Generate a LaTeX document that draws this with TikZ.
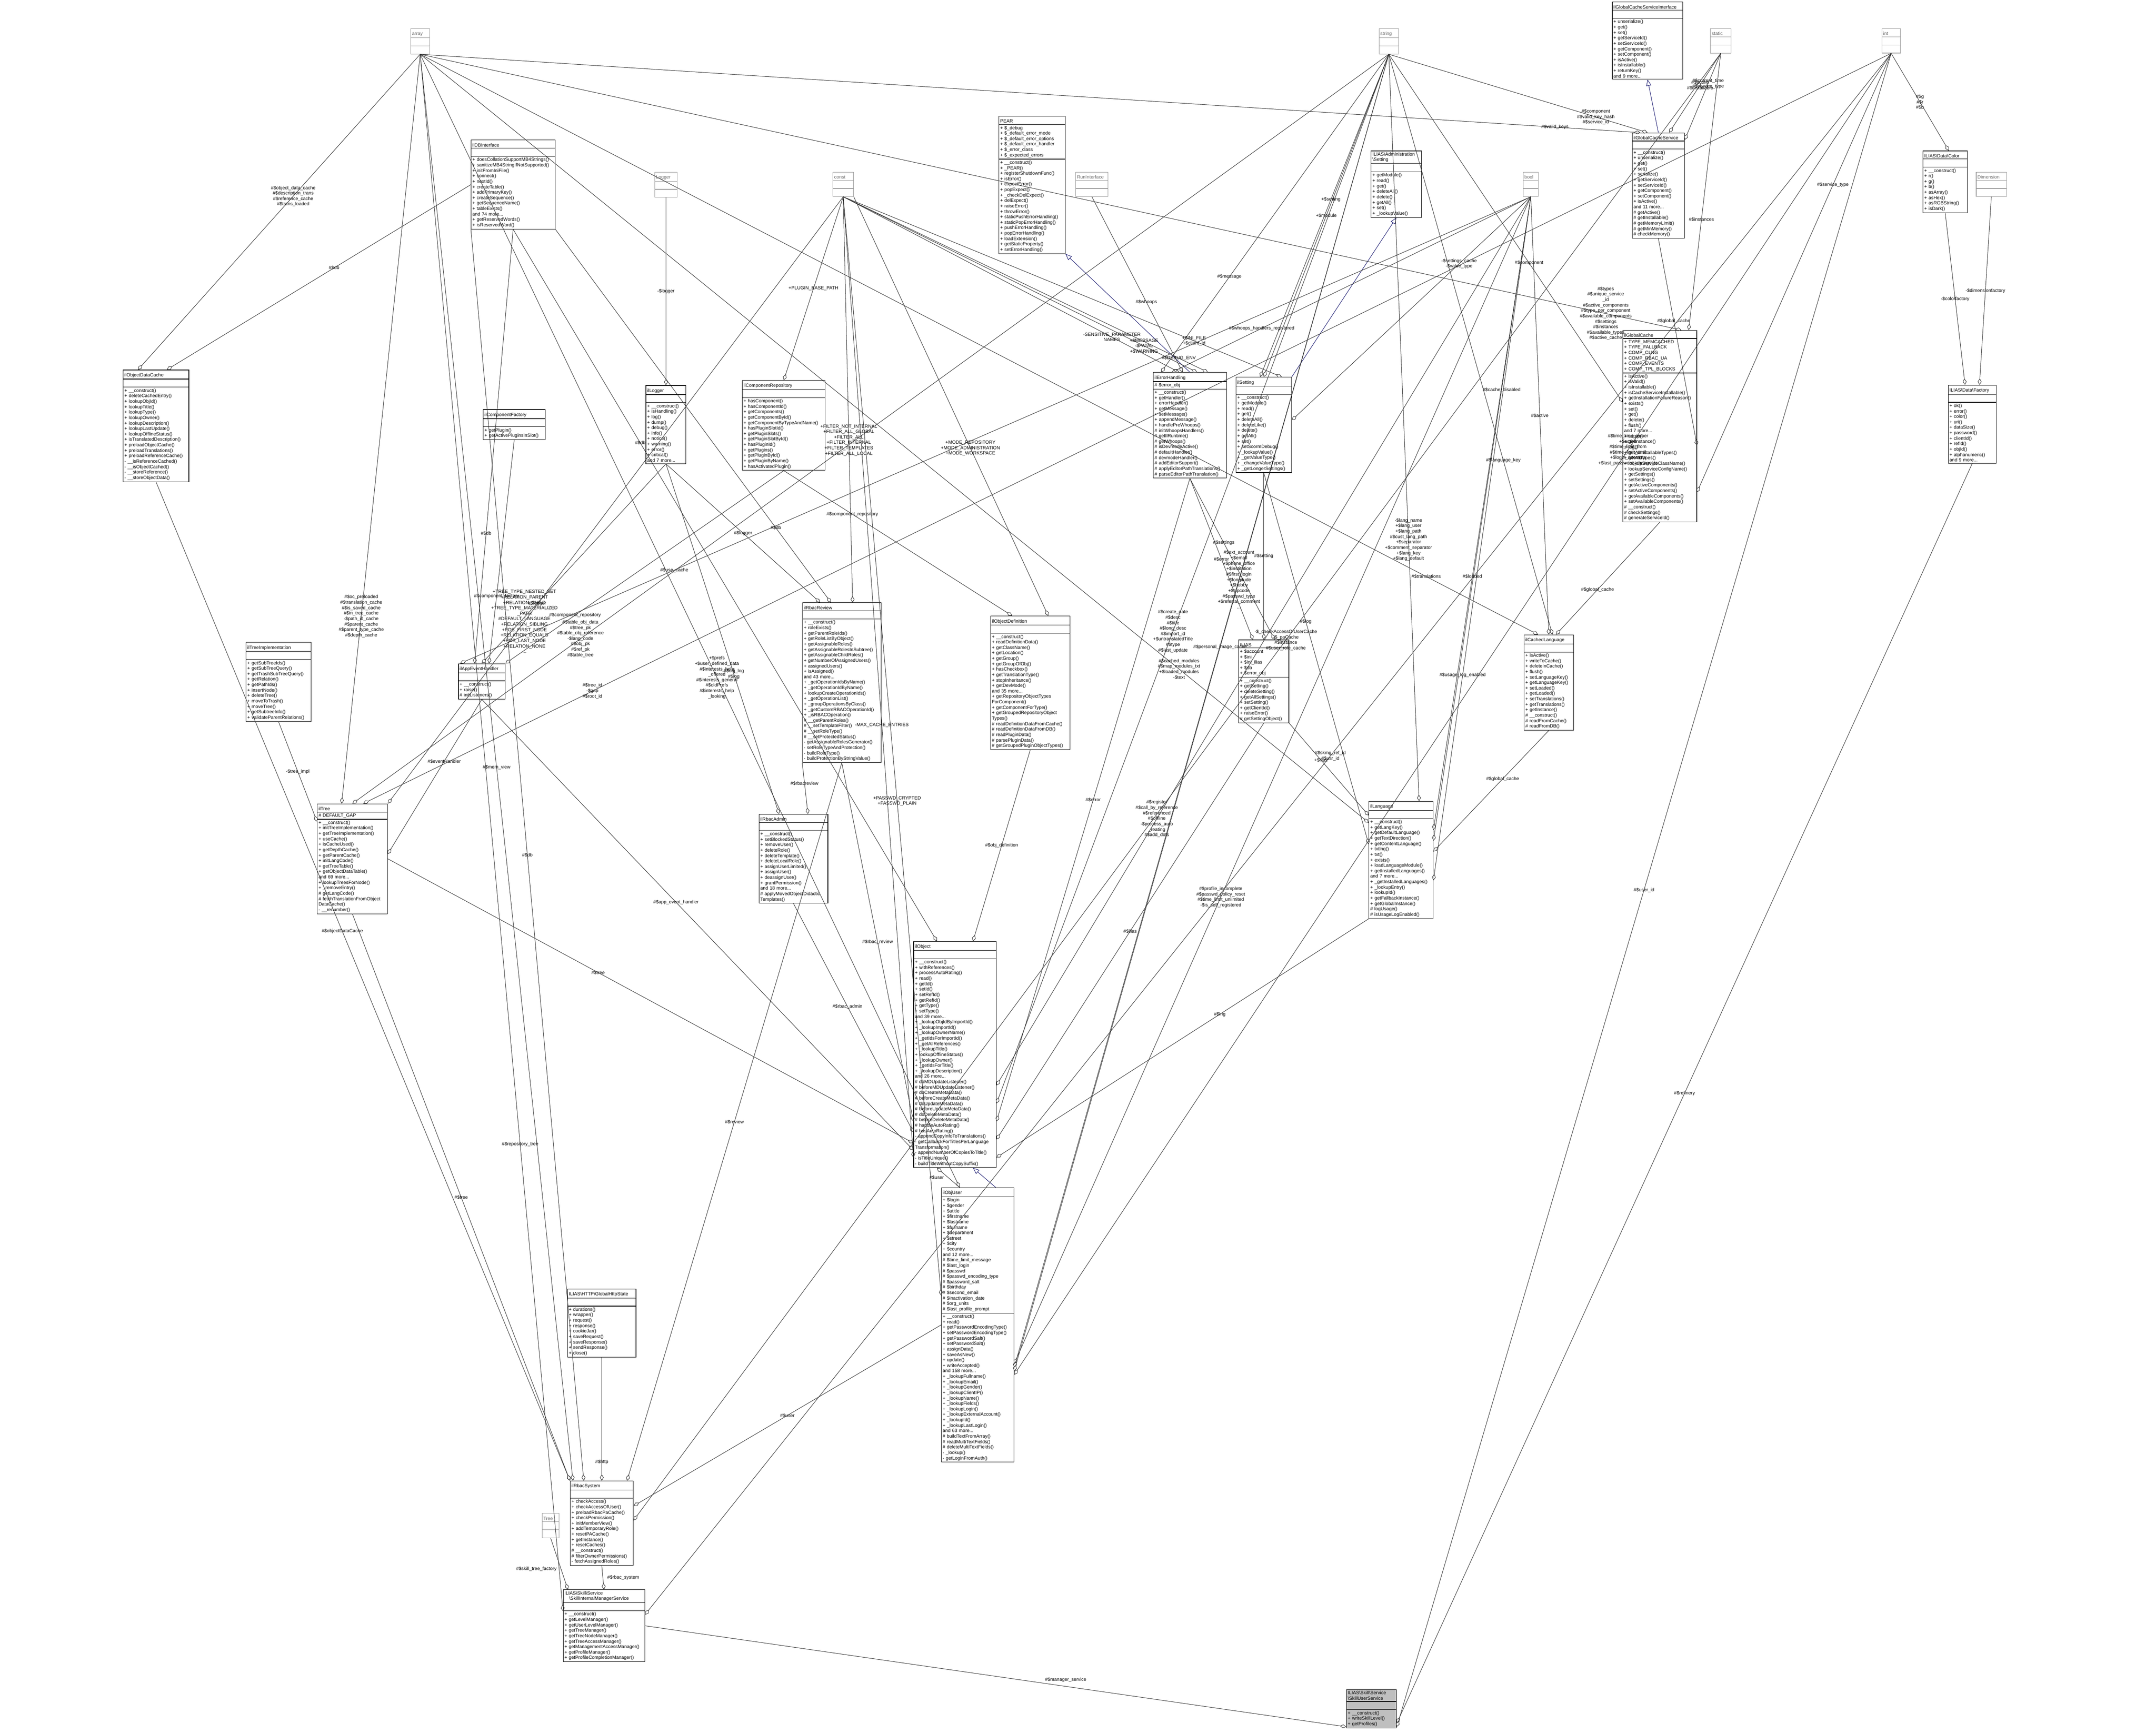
\documentclass[tikz,border=0pt]{standalone}
\usepackage{fontspec}
\usepackage{xcolor}
\usepackage{tikz}
\usetikzlibrary{arrows.meta,shapes.multipart}
\newfontfamily\dxfont{Liberation Sans}
\newcommand{\dxsize}{\dxfont\fontsize{3.7}{4.3}\selectfont}
\newcommand{\es}{\rule{0pt}{4pt}}
\definecolor{midblue}{HTML}{191970}
\tikzset{
  classbox/.style={rectangle split, rectangle split parts=3, draw=black, anchor=north,
    inner xsep=1pt, inner ysep=1pt, font=\dxsize, align=left},
  typebox/.style={classbox, draw=black!40, text=black!60},
  rel/.style={draw=black!80, line width=0.35pt, -{Diamond[open,length=5pt,width=3pt]}},
  inh/.style={draw=midblue, line width=0.35pt, -{Triangle[open,length=5pt,width=4pt]}},
  lbl/.style={font=\dxsize, align=center, text=black}
}
\begin{document}
\begin{tikzpicture}[x=1cm, y=-1cm]
    \useasboundingbox (0,0) rectangle (59.83,48.09);
    % basic types
    \node[typebox, text width=0.45cm] (tArray) at (11.66,0.79) {\centering array\es\nodepart{second}\es\nodepart{third}\es};
    \node[typebox, text width=0.55cm] (tLogger) at (18.48,4.77) {\centering Logger\es\nodepart{second}\es\nodepart{third}\es};
    \node[typebox, text width=0.50cm] (tConst) at (23.40,4.77) {\centering const\es\nodepart{second}\es\nodepart{third}\es};
    \node[typebox, text width=0.83cm] (tRun) at (30.30,4.77) {\centering RunInterface\es\nodepart{second}\es\nodepart{third}\es};
    \node[typebox, text width=0.47cm] (tString) at (38.54,0.79) {\centering string\es\nodepart{second}\es\nodepart{third}\es};
    \node[typebox, text width=0.50cm] (tStatic) at (47.75,0.79) {\centering static\es\nodepart{second}\es\nodepart{third}\es};
    \node[typebox, text width=0.44cm] (tInt) at (52.48,0.79) {\centering int\es\nodepart{second}\es\nodepart{third}\es};
    \node[typebox, text width=0.35cm] (tBool) at (42.48,4.77) {\centering bool\es\nodepart{second}\es\nodepart{third}\es};
    \node[typebox, text width=0.77cm] (tDimension) at (55.26,4.77) {\centering Dimension\es\nodepart{second}\es\nodepart{third}\es};
    \node[typebox, text width=0.40cm] (tTree) at (15.28,41.99) {\centering Tree\es\nodepart{second}\es\nodepart{third}\es};

    % classes
    \node[classbox, text width=1.77cm] (PEAR) at (28.64,3.22) {\centering PEAR\es\nodepart{second}+ \$\_debug\\+ \$\_default\_error\_mode\\+ \$\_default\_error\_options\\+ \$\_default\_error\_handler\\+ \$\_error\_class\\+ \$\_expected\_errors\nodepart{third}+ \_\_construct()\\+ \_PEAR()\\+ registerShutdownFunc()\\+ isError()\\+ expectError()\\+ popExpect()\\+ \_checkDelExpect()\\+ delExpect()\\+ raiseError()\\+ throwError()\\+ staticPushErrorHandling()\\+ staticPopErrorHandling()\\+ pushErrorHandling()\\+ popErrorHandling()\\+ loadExtension()\\+ getStaticProperty()\\+ setErrorHandling()};
    \node[classbox, text width=2.26cm] (ilDBInterface) at (14.24,3.88) {\centering ilDBInterface\es\nodepart{second}\es\nodepart{third}+ doesCollationSupportMB4Strings()\\+ sanitizeMB4StringIfNotSupported()\\+ initFromIniFile()\\+ connect()\\+ nextId()\\+ createTable()\\+ addPrimaryKey()\\+ createSequence()\\+ getSequenceName()\\+ tableExists()\\and 74 more...\\+ getReservedWords()\\+ isReservedWord()};
    \node[classbox, text width=1.75cm] (ilObjectDataCache) at (4.33,10.26) {\centering ilObjectDataCache\es\nodepart{second}\es\nodepart{third}+ \_\_construct()\\+ deleteCachedEntry()\\+ lookupObjId()\\+ lookupTitle()\\+ lookupType()\\+ lookupOwner()\\+ lookupDescription()\\+ lookupLastUpdate()\\+ lookupOfflineStatus()\\+ isTranslatedDescription()\\+ preloadObjectCache()\\+ preloadTranslations()\\+ preloadReferenceCache()\\- \_\_isReferenceCached()\\- \_\_isObjectCached()\\- \_\_storeReference()\\- \_\_storeObjectData()};
    \node[classbox, text width=1.65cm] (ilComponentFactory) at (14.27,11.36) {\centering ilComponentFactory\es\nodepart{second}\es\nodepart{third}+ getPlugin()\\+ getActivePluginsInSlot()};
    \node[classbox, text width=1.04cm] (ilLogger) at (18.48,10.69) {\centering ilLogger\es\nodepart{second}\es\nodepart{third}+ \_\_construct()\\+ isHandling()\\+ log()\\+ dump()\\+ debug()\\+ info()\\+ notice()\\+ warning()\\+ error()\\+ critical()\\and 7 more...};
    \node[classbox, text width=2.23cm] (ilComponentRepository) at (21.75,10.55) {\centering ilComponentRepository\es\nodepart{second}\es\nodepart{third}+ hasComponent()\\+ hasComponentId()\\+ getComponents()\\+ getComponentById()\\+ getComponentByTypeAndName()\\+ hasPluginSlotId()\\+ getPluginSlots()\\+ getPluginSlotById()\\+ hasPluginId()\\+ getPlugins()\\+ getPluginById()\\+ getPluginByName()\\+ hasActivatedPlugin()};
    \node[classbox, text width=1.89cm] (ilGlobalCacheServiceInterface) at (45.72,0.05) {\centering ilGlobalCacheServiceInterface\es\nodepart{second}\es\nodepart{third}+ unserialize()\\+ get()\\+ set()\\+ getServiceId()\\+ setServiceId()\\+ getComponent()\\+ setComponent()\\+ isActive()\\+ isInstallable()\\+ returnKey()\\and 9 more...};
    \node[classbox, text width=1.38cm] (ilGlobalCacheService) at (46.02,3.68) {\centering ilGlobalCacheService\es\nodepart{second}\es\nodepart{third}+ \_\_construct()\\+ unserialize()\\+ get()\\+ set()\\+ serialize()\\+ getServiceId()\\+ setServiceId()\\+ getComponent()\\+ setComponent()\\+ isActive()\\and 11 more...\\\# getActive()\\\# getInstallable()\\\# getMemoryLimit()\\\# getMinMemory()\\\# checkMemory()};
    \node[classbox, text width=1.33cm] (AdmSetting) at (38.75,4.18) {ILIAS\textbackslash Administration\\\textbackslash Setting\nodepart{second}\es\nodepart{third}+ getModule()\\+ read()\\+ get()\\+ deleteAll()\\+ delete()\\+ getAll()\\+ set()\\+ \_lookupValue()};
    \node[classbox, text width=1.98cm] (ilGlobalCache) at (46.06,9.16) {\centering ilGlobalCache\es\nodepart{second}+ TYPE\_MEMCACHED\\+ TYPE\_FALLBACK\\+ COMP\_CLNG\\+ COMP\_RBAC\_UA\\+ COMP\_EVENTS\\+ COMP\_TPL\_BLOCKS\nodepart{third}+ isActive()\\+ isValid()\\+ isInstallable()\\+ isCacheServiceInstallable()\\+ getInstallationFailureReason()\\+ exists()\\+ set()\\+ get()\\+ delete()\\+ flush()\\and 7 more...\\+ setup()\\+ getInstance()\\+ log()\\+ getAllInstallableTypes()\\+ getAllTypes()\\+ lookupServiceClassName()\\+ lookupServiceConfigName()\\+ getSettings()\\+ setSettings()\\+ getActiveComponents()\\+ setActiveComponents()\\+ getAvailableComponents()\\+ setAvailableComponents()\\\# \_\_construct()\\\# checkSettings()\\\# generateServiceId()};
    \node[classbox, text width=1.16cm] (Color) at (53.98,4.18) {\centering ILIAS\textbackslash Data\textbackslash Color\es\nodepart{second}\es\nodepart{third}+ \_\_construct()\\+ r()\\+ g()\\+ b()\\+ asArray()\\+ asHex()\\+ asRGBString()\\+ isDark()};
    \node[classbox, text width=1.26cm] (DataFactory) at (54.73,10.68) {\centering ILIAS\textbackslash Data\textbackslash Factory\es\nodepart{second}\es\nodepart{third}+ ok()\\+ error()\\+ color()\\+ uri()\\+ dataSize()\\+ password()\\+ clientId()\\+ refId()\\+ objId()\\+ alphanumeric()\\and 9 more...};
    \node[classbox, text width=1.96cm] (ilErrorHandling) at (33.02,10.33) {\centering ilErrorHandling\es\nodepart{second}\# \$error\_obj\nodepart{third}+ \_\_construct()\\+ getHandler()\\+ errorHandler()\\+ getMessage()\\+ setMessage()\\+ appendMessage()\\+ handlePreWhoops()\\\# initWhoopsHandlers()\\\# getIlRuntime()\\\# getWhoops()\\\# isDevmodeActive()\\\# defaultHandler()\\\# devmodeHandler()\\\# addEditorSupport()\\\# applyEditorPathTranslations()\\\# parseEditorPathTranslation()};
    \node[classbox, text width=1.47cm] (ilSetting) at (35.07,10.46) {\centering ilSetting\es\nodepart{second}\es\nodepart{third}+ \_\_construct()\\+ getModule()\\+ read()\\+ get()\\+ deleteAll()\\+ deleteLike()\\+ delete()\\+ getAll()\\+ set()\\+ setScormDebug()\\+ \_lookupValue()\\+ \_getValueType()\\+ \_changeValueType()\\+ \_getLongerSettings()};
    \node[classbox, text width=1.73cm] (ilTreeImplementation) at (7.73,17.82) {\centering ilTreeImplementation\es\nodepart{second}\es\nodepart{third}+ getSubTreeIds()\\+ getSubTreeQuery()\\+ getTrashSubTreeQuery()\\+ getRelation()\\+ getPathIds()\\+ insertNode()\\+ deleteTree()\\+ moveToTrash()\\+ moveTree()\\+ getSubtreeInfo()\\+ validateParentRelations()};
    \node[classbox, text width=1.23cm] (ilAppEventHandler) at (13.37,18.41) {\centering ilAppEventHandler\es\nodepart{second}\es\nodepart{third}+ \_\_construct()\\+ raise()\\\# initListeners()};
    \node[classbox, text width=1.88cm] (ilTree) at (9.78,22.30) {\centering ilTree\es\nodepart{second}\# DEFAULT\_GAP\nodepart{third}+ \_\_construct()\\+ initTreeImplementation()\\+ getTreeImplementation()\\+ useCache()\\+ isCacheUsed()\\+ getDepthCache()\\+ getParentCache()\\+ initLangCode()\\+ getTreeTable()\\+ getObjectDataTable()\\and 69 more...\\+ lookupTreesForNode()\\+ \_removeEntry()\\\# getLangCode()\\\# fetchTranslationFromObject\\DataCache()\\- \_\_renumber()};
    \node[classbox, text width=2.11cm] (ilRbacReview) at (23.36,16.72) {\centering ilRbacReview\es\nodepart{second}\es\nodepart{third}+ \_\_construct()\\+ roleExists()\\+ getParentRoleIds()\\+ getRoleListByObject()\\+ getAssignableRoles()\\+ getAssignableRolesInSubtree()\\+ getAssignableChildRoles()\\+ getNumberOfAssignedUsers()\\+ assignedUsers()\\+ isAssigned()\\and 43 more...\\+ \_getOperationIdsByName()\\+ \_getOperationIdByName()\\+ lookupCreateOperationIds()\\+ \_getOperationList()\\+ \_groupOperationsByClass()\\+ \_getCustomRBACOperationId()\\+ \_isRBACOperation()\\\# \_\_getParentRoles()\\\# \_\_setTemplateFilter()\\\# \_\_setRoleType()\\\# \_\_setProtectedStatus()\\- getAssignableRolesGenerator()\\- setRoleTypeAndProtection()\\- buildRoleType()\\- buildProtectionByStringValue()};
    \node[classbox, text width=2.13cm] (ilObjectDefinition) at (28.59,17.09) {\centering ilObjectDefinition\es\nodepart{second}\es\nodepart{third}+ \_\_construct()\\+ readDefinitionData()\\+ getClassName()\\+ getLocation()\\+ getGroup()\\+ getGroupOfObj()\\+ hasCheckbox()\\+ getTranslationType()\\+ stopInheritance()\\+ getDevMode()\\and 35 more...\\+ getRepositoryObjectTypes\\ForComponent()\\+ getComponentForType()\\+ getGroupedRepositoryObject\\Types()\\\# readDefinitionDataFromCache()\\\# readDefinitionDataFromDB()\\\# readPluginData()\\\# parsePluginData()\\\# getGroupedPluginObjectTypes()};
    \node[classbox, text width=1.84cm] (ilRbacAdmin) at (22.02,22.59) {\centering ilRbacAdmin\es\nodepart{second}\es\nodepart{third}+ \_\_construct()\\+ setBlockedStatus()\\+ removeUser()\\+ deleteRole()\\+ deleteTemplate()\\+ deleteLocalRole()\\+ assignUserLimited()\\+ assignUser()\\+ deassignUser()\\+ grantPermission()\\and 18 more...\\\# applyMovedObjectDidactic\\Templates()};
    \node[classbox, text width=2.22cm] (ilObject) at (26.50,26.12) {\centering ilObject\es\nodepart{second}\es\nodepart{third}+ \_\_construct()\\+ withReferences()\\+ processAutoRating()\\+ read()\\+ getId()\\+ setId()\\+ setRefId()\\+ getRefId()\\+ getType()\\+ setType()\\and 39 more...\\+ \_lookupObjIdByImportId()\\+ \_lookupImportId()\\+ \_lookupOwnerName()\\+ \_getIdsForImportId()\\+ \_getAllReferences()\\+ \_lookupTitle()\\+ lookupOfflineStatus()\\+ \_lookupOwner()\\+ \_getIdsForTitle()\\+ \_lookupDescription()\\and 26 more...\\\# doMDUpdateListener()\\\# beforeMDUpdateListener()\\\# doCreateMetaData()\\\# beforeCreateMetaData()\\\# doUpdateMetaData()\\\# beforeUpdateMetaData()\\\# doDeleteMetaData()\\\# beforeDeleteMetaData()\\\# handleAutoRating()\\\# hasAutoRating()\\- appendCopyInfoToTranslations()\\- getCallbackForTitlesPerLanguage\\Transformation()\\- appendNumberOfCopiesToTitle()\\- isTitleUnique()\\- buildTitleWithoutCopySuffix()};
    \node[classbox, text width=1.32cm] (ILIAS) at (35.07,17.75) {\centering ILIAS\es\nodepart{second}+ \$account\\+ \$ini\\+ \$ini\_ilias\\+ \$db\\+ \$error\_obj\nodepart{third}+ \_\_construct()\\+ getSetting()\\+ deleteSetting()\\+ getAllSettings()\\+ setSetting()\\+ getClientId()\\+ raiseError()\\\# getSettingObject()};
    \node[classbox, text width=1.30cm] (ilCachedLanguage) at (42.98,17.61) {\centering ilCachedLanguage\es\nodepart{second}\es\nodepart{third}+ isActive()\\+ writeToCache()\\+ deleteInCache()\\+ flush()\\+ setLanguageKey()\\+ getLanguageKey()\\+ setLoaded()\\+ getLoaded()\\+ setTranslations()\\+ getTranslations()\\+ getInstance()\\\# \_\_construct()\\\# readFromCache()\\\# readFromDB()};
    \node[classbox, text width=1.71cm] (ilLanguage) at (38.88,22.23) {\centering ilLanguage\es\nodepart{second}\es\nodepart{third}+ \_\_construct()\\+ getLangKey()\\+ getDefaultLanguage()\\+ getTextDirection()\\+ getContentLanguage()\\+ txtlng()\\+ txt()\\+ exists()\\+ loadLanguageModule()\\+ getInstalledLanguages()\\and 7 more...\\+ \_getInstalledLanguages()\\+ \_lookupEntry()\\+ lookupId()\\+ getFallbackInstance()\\+ getGlobalInstance()\\\# logUsage()\\\# isUsageLogEnabled()};
    \node[classbox, text width=1.94cm] (ilObjUser) at (27.13,32.95) {\centering ilObjUser\es\nodepart{second}+ \$login\\+ \$gender\\+ \$utitle\\+ \$firstname\\+ \$lastname\\+ \$fullname\\+ \$department\\+ \$street\\+ \$city\\+ \$country\\and 12 more...\\\# \$time\_limit\_message\\\# \$last\_login\\\# \$passwd\\\# \$passwd\_encoding\_type\\\# \$password\_salt\\\# \$birthday\\\# \$second\_email\\\# \$inactivation\_date\\\# \$org\_units\\\# \$last\_profile\_prompt\nodepart{third}+ \_\_construct()\\+ read()\\+ getPasswordEncodingType()\\+ setPasswordEncodingType()\\+ getPasswordSalt()\\+ setPasswordSalt()\\+ assignData()\\+ saveAsNew()\\+ update()\\+ writeAccepted()\\and 158 more...\\+ \_lookupFullname()\\+ \_lookupEmail()\\+ \_lookupGender()\\+ \_lookupClientIP()\\+ \_lookupName()\\+ \_lookupFields()\\+ \_lookupLogin()\\+ \_lookupExternalAccount()\\+ \_lookupId()\\+ \_lookupLastLogin()\\and 63 more...\\\# buildTextFromArray()\\\# readMultiTextFields()\\\# deleteMultiTextFields()\\- \_lookup()\\- getLoginFromAuth()};
    \node[classbox, text width=1.83cm] (GlobalHttpState) at (16.70,35.76) {\centering ILIAS\textbackslash HTTP\textbackslash GlobalHttpState\es\nodepart{second}\es\nodepart{third}+ durations()\\+ wrapper()\\+ request()\\+ response()\\+ cookieJar()\\+ saveRequest()\\+ saveResponse()\\+ sendResponse()\\+ close()};
    \node[classbox, text width=1.68cm] (ilRbacSystem) at (16.70,41.09) {\centering ilRbacSystem\es\nodepart{second}\es\nodepart{third}+ checkAccess()\\+ checkAccessOfUser()\\+ preloadRbacPaCache()\\+ checkPermission()\\+ initMemberView()\\+ addTemporaryRole()\\+ resetPACache()\\+ getInstance()\\+ resetCaches()\\\# \_\_construct()\\\# filterOwnerPermissions()\\- fetchAssignedRoles()};
    \node[classbox, text width=2.19cm] (SkillManager) at (16.76,44.11) {ILIAS\textbackslash Skill\textbackslash Service\\\quad\textbackslash SkillInternalManagerService\nodepart{second}\es\nodepart{third}+ \_\_construct()\\+ getLevelManager()\\+ getUserLevelManager()\\+ getTreeManager()\\+ getTreeNodeManager()\\+ getTreeAccessManager()\\+ getManagementAccessManager()\\+ getProfileManager()\\+ getProfileCompletionManager()};
    \node[classbox, text width=1.32cm, fill=black!25] (SkillUser) at (38.06,46.88) {ILIAS\textbackslash Skill\textbackslash Service\\\textbackslash SkillUserService\nodepart{second}\es\nodepart{third}+ \_\_construct()\\+ writeSkillLevel()\\+ getProfiles()};

    % inheritance
    \draw[inh] (ilGlobalCacheService.north) -- (ilGlobalCacheServiceInterface.south);
    \draw[inh] (ilErrorHandling.north) -- (PEAR.south east);
    \draw[inh] (ilSetting.north east) -- (AdmSetting.south);
    \draw[inh] ([xshift=0.5cm]ilObjUser.north) -- ([xshift=0.5cm]ilObject.south);

    % members: upper left
    \draw[rel] (tArray.south) -- node[lbl,pos=0.45]{\#\$object\_data\_cache\\\#\$description\_trans\\\#\$reference\_cache\\\#\$trans\_loaded} ([xshift=-0.5cm]ilObjectDataCache.north);
    \draw[rel] (ilDBInterface.west) -- node[lbl,pos=0.45]{\#\$db} ([xshift=0.3cm]ilObjectDataCache.north);
    \draw[rel] (tArray.south) -- node[lbl,pos=0.75]{\#\$oc\_preloaded\\\#\$translation\_cache\\\#\$is\_saved\_cache\\\#\$in\_tree\_cache\\-\$path\_id\_cache\\\#\$parent\_cache\\\#\$parent\_type\_cache\\\#\$depth\_cache} ([xshift=-0.3cm]ilTree.north);
    \draw[rel] (tString.south) -- node[lbl,pos=0.78]{\#\$table\_obj\_data\\\#\$tree\_pk\\\#\$table\_obj\_reference\\-\$lang\_code\\\#\$obj\_pk\\\#\$ref\_pk\\\#\$table\_tree} (ilTree.north);
    \draw[rel] (tInt.south) -- node[lbl,pos=0.85]{\#\$tree\_id\\-\$gap\\\#\$root\_id} ([xshift=0.3cm]ilTree.north);
    \draw[rel] (tConst.south) -- node[lbl,pos=0.7]{+TREE\_TYPE\_NESTED\_SET\\+RELATION\_PARENT\\+RELATION\_CHILD\\+TREE\_TYPE\_MATERIALIZED\\\_PATH\\\#DEFAULT\_LANGUAGE\\+RELATION\_SIBLING\\+POS\_FIRST\_NODE\\+RELATION\_EQUALS\\+POS\_LAST\_NODE\\+RELATION\_NONE\\...} (ilTree.north east);
    \draw[rel] (ilTreeImplementation.south) -- node[lbl,pos=0.5]{-\$tree\_impl} ([yshift=-0.5cm]ilTree.north west);
    \draw[rel] (ilAppEventHandler.south) -- node[lbl,pos=0.4]{\#\$eventHandler} ([yshift=-1.4cm]ilTree.north east);
    \draw[rel] (ilObjectDataCache.south) -- node[lbl,pos=0.45]{\#\$objectDataCache} (ilRbacSystem.north west);
    \draw[rel] (tLogger.south) -- node[lbl,pos=0.5]{-\$logger} (ilLogger.north);
    \draw[rel] (tConst.south) -- node[lbl,pos=0.5]{+PLUGIN\_BASE\_PATH} (ilComponentRepository.north);
    \draw[rel] (ilComponentFactory.south) -- node[lbl,pos=0.7]{\#\$component\_factory} ([xshift=0.2cm]ilAppEventHandler.north);
    \draw[rel] (ilComponentRepository.south) -- node[lbl,pos=0.75]{\#\$component\_repository} (ilAppEventHandler.north east);
    \draw[rel] (ilLogger.south) -- node[lbl,pos=0.7]{\#\$logger} (ilAppEventHandler.north);
    \draw[rel] (ilDBInterface.south) -- node[lbl,pos=0.7]{\#\$db} ([xshift=-0.2cm]ilAppEventHandler.north);
    \draw[rel] (tBool.south) -- node[lbl,pos=0.8]{\#\$use\_cache} ([xshift=-0.6cm]ilAppEventHandler.north);

    % members: rbac
    \draw[rel] (ilLogger.south) -- node[lbl,pos=0.5]{\#\$logger} ([xshift=-0.6cm]ilRbacReview.north);
    \draw[rel] (ilDBInterface.south east) -- node[lbl,pos=0.8]{\#\$db} ([xshift=-0.3cm]ilRbacReview.north);
    \draw[rel] (tConst.south) -- node[lbl,pos=0.6]{+FILTER\_NOT\_INTERNAL\\+FILTER\_ALL\_GLOBAL\\+FILTER\_ALL\\+FILTER\_INTERNAL\\+FILTER\_TEMPLATES\\+FILTER\_ALL\_LOCAL} ([xshift=0.3cm]ilRbacReview.north);
    \draw[rel] (ilComponentRepository.south) -- node[lbl,pos=0.3]{\#\$component\_repository} ([xshift=-0.5cm]ilObjectDefinition.north);
    \draw[rel] (tConst.south east) -- node[lbl,pos=0.6]{+MODE\_REPOSITORY\\+MODE\_ADMINISTRATION\\+MODE\_WORKSPACE} ([xshift=0.5cm]ilObjectDefinition.north);
    \draw[rel] (ilRbacReview.south west) -- node[lbl,pos=0.4]{\#\$rbacreview} ([xshift=0.4cm]ilRbacAdmin.north);
    \draw[rel] (ilLogger.south) -- node[lbl,pos=0.6]{\#\$obj\_log\\\#\$log} ([xshift=-0.4cm]ilRbacAdmin.north);
    \draw[rel] (tConst.south) -- node[lbl,pos=0.55]{+PASSWD\_CRYPTED\\+PASSWD\_PLAIN} ([yshift=-3cm]ilObjUser.north west);

    % members: ilObject
    \draw[rel] (ilRbacReview.south) -- node[lbl,pos=0.5]{\#\$rbac\_review} ([yshift=-5cm]ilObject.north west);
    \draw[rel] (ilRbacAdmin.south) -- node[lbl,pos=0.45]{\#\$rbac\_admin} ([yshift=-5.3cm]ilObject.north west);
    \draw[rel] (ilObjectDefinition.south) -- node[lbl,pos=0.5]{\#\$obj\_definition} ([xshift=0.5cm]ilObject.north);
    \draw[rel] (ilTree.east) -- node[lbl,pos=0.4]{\#\$tree} ([yshift=-5.6cm]ilObject.north west);
    \draw[rel] (ilAppEventHandler.south) -- node[lbl,pos=0.45]{\#\$app\_event\_handler} ([yshift=-5.8cm]ilObject.north west);
    \draw[rel] (tConst.south) -- node[lbl,pos=0.55]{-MAX\_CACHE\_ENTRIES} ([yshift=-6cm]ilObject.north west);
    \draw[rel] (ilLanguage.south west) -- node[lbl,pos=0.4]{\#\$lng} ([yshift=-6cm]ilObject.north east);
    \draw[rel] (ILIAS.south) -- node[lbl,pos=0.5]{\#\$ilias} ([yshift=-5.5cm]ilObject.north east);
    \draw[rel] (ilErrorHandling.south) -- node[lbl,pos=0.5]{\#\$error} ([yshift=-5cm]ilObject.north east);
    \draw[rel] (tString.south) -- node[lbl,pos=0.55]{\#\$create\_date\\\#\$desc\\\#\$title\\\#\$long\_desc\\\#\$import\_id\\+\$untranslatedTitle\\\#\$type\\\#\$last\_update} ([yshift=-4.5cm]ilObject.north east);
    \draw[rel] (tBool.south) -- node[lbl,pos=0.7]{\#\$register\\\#\$call\_by\_reference\\\#\$referenced\\\#\$offline\\-\$process\_auto\\\_reating\\\#\$add\_dots} ([yshift=-4cm]ilObject.north east);
    \draw[rel] (ilDBInterface.south) -- node[lbl,pos=0.3]{\#\$db} ([xshift=-0.5cm]ilObject.north);
    \draw[rel] ([xshift=-0.5cm]ilObjUser.north) -- node[lbl,pos=0.5,left]{\#\$user} ([xshift=-0.5cm]ilObject.south);

    % members: error handling and settings
    \draw[rel] (tRun.south) -- node[lbl,pos=0.6]{\#\$whoops} ([xshift=-0.2cm]ilErrorHandling.north);
    \draw[rel] (tString.south) -- node[lbl,pos=0.7]{\#\$message} ([xshift=-0.8cm]ilErrorHandling.north);
    \draw[rel] (tBool.south) -- node[lbl,pos=0.75]{\#\$whoops\_handlers\_registered} ([xshift=-0.5cm]ilErrorHandling.north);
    \draw[rel] (tConst.south) -- node[lbl,pos=0.8]{-SENSITIVE\_PARAMETER\\NAMES} ([xshift=-0.3cm]ilErrorHandling.north);
    \draw[rel] (tConst.south) -- node[lbl,pos=0.85]{+\$MESSAGE\\-\$FATAL\\+\$WARNING} ([xshift=0.2cm]ilErrorHandling.north);
    \draw[rel] (tConst.south) -- node[lbl,pos=0.92]{\#\$DEBUG\_ENV} ([xshift=0.5cm]ilErrorHandling.north);
    \draw[rel] (tString.south) -- node[lbl,pos=0.5]{+\$module} (ilSetting.north);
    \draw[rel] (tString.south) -- node[lbl,pos=0.45]{+\$setting} ([xshift=-0.1cm]ilSetting.north);
    \draw[rel] (tBool.south) -- node[lbl,pos=0.3]{-\$settings\_cache\\-\$value\_type} ([yshift=-1.2cm]ilSetting.north east);
    \draw[rel] (tConst.south) -- node[lbl,pos=0.8]{+\$INI\_FILE\\+\$client\_id} ([xshift=0.5cm]ilSetting.north);
    \draw[rel] (ilErrorHandling.south) -- node[lbl,pos=0.5]{\#\$error} ([xshift=-0.3cm]ILIAS.north);
    \draw[rel] (ilSetting.south) -- node[lbl,pos=0.5]{\#\$setting} (ILIAS.north);
    \draw[rel] (ilErrorHandling.south) -- node[lbl,pos=0.4]{\#\$settings} ([xshift=0.3cm]ILIAS.north);

    % members: language
    \draw[rel] (tArray.south) -- node[lbl,pos=0.8]{\#\$cached\_modules\\\#\$map\_modules\_txt\\+\$loaded\_modules\\-\$text} ([yshift=-0.6cm]ilLanguage.north west);
    \draw[rel] (tString.south) -- node[lbl,pos=0.65]{-\$lang\_name\\+\$lang\_user\\+\$lang\_path\\\#\$cust\_lang\_path\\+\$separator\\+\$comment\_separator\\+\$lang\_key\\+\$lang\_default} ([xshift=0.5cm]ilLanguage.north);
    \draw[rel] (tBool.south) -- node[lbl,pos=0.6]{\#\$loaded} ([yshift=-0.8cm]ilLanguage.north east);
    \draw[rel] (tBool.south) -- node[lbl,pos=0.3]{\#\$cache\_disabled} ([yshift=-1.1cm]ilLanguage.north east);
    \draw[rel] (ILIAS.south east) -- node[lbl,pos=0.4]{+\$ilias} ([yshift=-0.4cm]ilLanguage.north west);
    \draw[rel] (ilCachedLanguage.south) -- node[lbl,pos=0.4]{\#\$global\_cache} ([yshift=-1.4cm]ilLanguage.north east);
    \draw[rel] (ilSetting.south) -- node[lbl,pos=0.4]{\#\$log} ([yshift=-1.2cm]ilLanguage.north west);
    \draw[rel] (tBool.south) -- node[lbl,pos=0.7]{\#\$usage\_log\_enabled} ([yshift=-2.2cm]ilLanguage.north east);
    \draw[rel] (ilGlobalCache.south) -- node[lbl,pos=0.6]{\#\$global\_cache} ([xshift=0.2cm]ilCachedLanguage.north);
    \draw[rel] (tArray.south) -- node[lbl,pos=0.9]{\#\$translations} ([xshift=-0.3cm]ilCachedLanguage.north);
    \draw[rel] (tBool.south) -- node[lbl,pos=0.5]{\#\$active} (ilCachedLanguage.north);
    \draw[rel] (tString.south) -- node[lbl,pos=0.7]{\#\$language\_key} ([xshift=0.1cm]ilCachedLanguage.north);

    % members: global cache
    \draw[rel] (tString.south) -- node[lbl,pos=0.8]{\#\$component\\\#\$valid\_key\_hash\\\#\$service\_id} ([xshift=-0.3cm]ilGlobalCacheService.north);
    \draw[rel] (tArray.south) -- node[lbl,pos=0.93]{\#\$valid\_keys} ([xshift=-0.5cm]ilGlobalCacheService.north);
    \draw[rel] (tStatic.south) -- node[lbl,pos=0.4]{\#\$active\\\#\$installable} ([xshift=0.3cm]ilGlobalCacheService.north);
    \draw[rel] (tStatic.south) -- node[lbl,pos=0.35]{\#\$current\_time\\\#\$service\_type} ([yshift=-0.2cm]ilGlobalCacheService.north east);
    \draw[rel] (ilGlobalCacheService.south) -- node[lbl,pos=0.4]{\#\$global\_cache} ([yshift=-3.2cm]ilGlobalCache.north east);
    \draw[rel] (tArray.south) -- node[lbl,pos=0.94]{\#\$types\\\#\$unique\_service\\\_id\\\#\$active\_components\\\#\$type\_per\_component\\\#\$available\_components\\\#\$settings\\\#\$instances\\\#\$available\_types\\\#\$active\_cache} ([xshift=0.6cm]ilGlobalCache.north);
    \draw[rel] (tInt.south) -- node[lbl,pos=0.3]{\#\$service\_type} ([yshift=-4.5cm]ilGlobalCache.north east);
    \draw[rel] (tString.south) -- node[lbl,pos=0.6]{\#\$component} ([yshift=-2cm]ilGlobalCache.north west);
    \draw[rel] (tStatic.south) -- node[lbl,pos=0.6]{\#\$instances} ([xshift=0.8cm]ilGlobalCache.north);

    % members: data
    \draw[rel] (tInt.south) -- node[lbl,pos=0.5]{\#\$g\\\#\$r\\\#\$b} ([xshift=0.1cm]Color.north);
    \draw[rel] (Color.south) -- node[lbl,pos=0.5]{-\$colorfactory} ([xshift=-0.2cm]DataFactory.north);
    \draw[rel] (tDimension.south) -- node[lbl,pos=0.5]{-\$dimensionfactory} ([xshift=0.2cm]DataFactory.north);

    % members: ilObjUser
    \draw[rel] (tArray.south) -- node[lbl,pos=0.55]{+\$prefs\\+\$user\_defined\_data\\\#\$interests\_help\\\_offered\\\#\$interests\_general\\\#\$oldPrefs\\\#\$interests\_help\\\_looking} ([xshift=-0.5cm]ilObjUser.north);
    \draw[rel] (tString.south) -- node[lbl,pos=0.4]{\#\$ext\_account\\+\$email\\+\$phone\_office\\+\$institution\\\#\$first\_login\\+\$longitude\\+\$hobby\\+\$zipcode\\\#\$passwd\_type\\+\$referral\_comment\\...} ([yshift=-5cm]ilObjUser.north east);
    \draw[rel] (tString.south) -- node[lbl,pos=0.45]{\#\$personal\_image\_cache} ([yshift=-5.1cm]ilObjUser.north east);
    \draw[rel] (tInt.south) -- node[lbl,pos=0.3]{\#\$time\_limit\_owner\\+\$active\\\#\$time\_limit\_from\\\#\$time\_limit\_until\\+\$login\_attempts\\+\$last\_password\_change\_ts} ([yshift=-5.2cm]ilObjUser.north east);
    \draw[rel] (tBool.south) -- node[lbl,pos=0.6]{\#\$profile\_incomplete\\\#\$passwd\_policy\_reset\\\#\$time\_limit\_unlimited\\-\$is\_self\_registered} ([yshift=-4.9cm]ilObjUser.north east);

    % members: rbac system and skills
    \draw[rel] (ilObjUser.west) -- node[lbl,pos=0.5]{\#\$user} ([yshift=-0.7cm]ilRbacSystem.north east);
    \draw[rel] (GlobalHttpState.south) -- node[lbl,pos=0.85]{\#\$http} (ilRbacSystem.north);
    \draw[rel] (tArray.south) -- node[lbl,pos=0.5]{\#\$mem\_view} ([xshift=-0.8cm]ilRbacSystem.north);
    \draw[rel] (ilDBInterface.south west) -- node[lbl,pos=0.5]{\#\$db} ([xshift=-0.5cm]ilRbacSystem.north);
    \draw[rel] (ilRbacReview.south) -- node[lbl,pos=0.5]{\#\$review} ([xshift=0.7cm]ilRbacSystem.north);
    \draw[rel] (ilTree.south) -- node[lbl,pos=0.5]{\#\$tree} (ilRbacSystem.north west);
    \draw[rel] (tStatic.south) -- node[lbl,pos=0.4]{-\$\_checkAccessOfUserCache\\-\$\_paCache\\\#\$instance\\\#\$user\_role\_cache} ([yshift=-1.1cm]ilRbacSystem.north east);
    \draw[rel] (ilRbacSystem.south) -- node[lbl,pos=0.5,right]{\#\$rbac\_system} (SkillManager.north);
    \draw[rel] (tTree.south) -- node[lbl,pos=0.6,left]{\#\$skill\_tree\_factory} ([xshift=-1cm]SkillManager.north);
    \draw[rel] (tInt.south) -- node[lbl,pos=0.45]{\#\$skmg\_ref\_id\\\#\$usr\_id} ([yshift=-0.7cm]SkillManager.north east);
    \draw[rel] (tArray.south) -- node[lbl,pos=0.7]{\#\$repository\_tree} ([yshift=-0.6cm]SkillManager.north west);
    \draw[rel] (SkillManager.east) -- node[lbl,pos=0.6,above]{\#\$manager\_service} ([yshift=-0.5cm]SkillUser.west);
    \draw[rel] (DataFactory.south) -- node[lbl,pos=0.5]{\#\$refinery} ([yshift=-0.4cm]SkillUser.east);
    \draw[rel] (tInt.south) -- node[lbl,pos=0.5]{\#\$user\_id} ([yshift=-0.5cm]SkillUser.east);
\end{tikzpicture}
\end{document}
